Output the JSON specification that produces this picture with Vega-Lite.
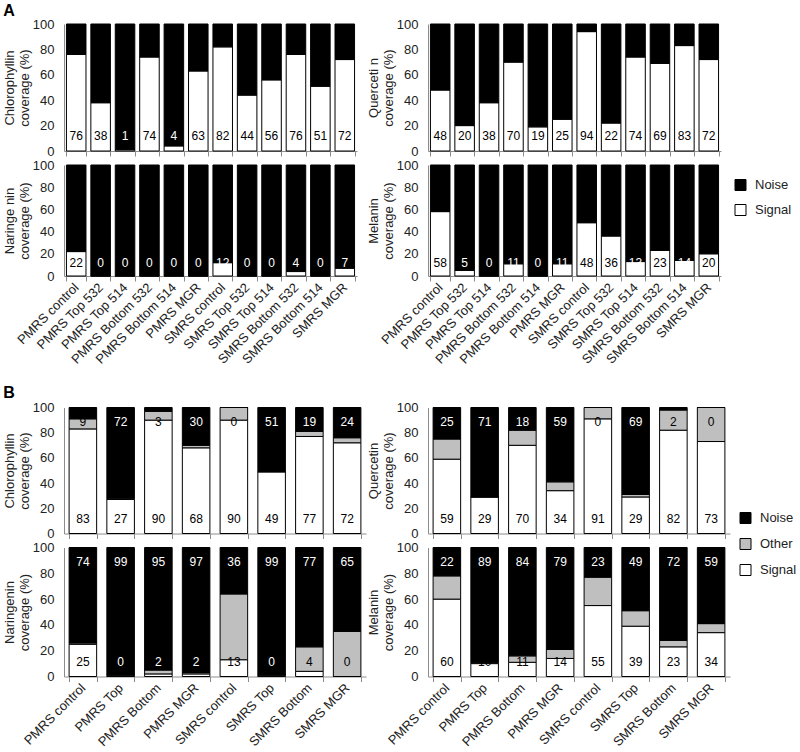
{
  "$schema": "https://vega.github.io/schema/vega-lite/v6.json",
  "padding": {"left": 3, "top": 3, "right": 0, "bottom": 0},
  "background": "white",
  "config": {
    "font": "Liberation Sans",
    "view": {"stroke": null},
    "bar": {"stroke": "black", "strokeWidth": 1},
    "text": {"font": "Liberation Sans", "fontSize": 12, "baseline": "middle"},
    "axis": {"labelFont": "Liberation Sans", "titleFont": "Liberation Sans", "labelFontSize": 13, "titleFontSize": 13, "titleFontWeight": "normal", "domainColor": "#8c8c8c", "tickColor": "#8c8c8c", "labelColor": "#222", "titleColor": "#222", "grid": false},
    "axisY": {"labelOverlap": false, "labelFlush": false, "ticks": false, "labelPadding": 10, "titlePadding": 1, "tickCount": 6},
    "axisX": {"tickBand": "extent", "tickSize": 5, "title": null},
    "legend": {"orient": "none", "title": null, "symbolType": "square", "symbolSize": 121, "symbolStrokeColor": "black", "symbolStrokeWidth": 1, "labelFontSize": 13, "labelFont": "Liberation Sans", "labelColor": "#222", "rowPadding": 10, "labelOffset": 8, "padding": 0},
    "title": {"font": "Liberation Sans", "fontSize": 16, "fontWeight": "bold", "anchor": "start", "frame": "bounds"}
  },
  "datasets": {
    "A": [
      {"c": "Chlorophyllin", "g": "PMRS control", "Signal": 76, "Noise": 24},
      {"c": "Chlorophyllin", "g": "PMRS Top 532", "Signal": 38, "Noise": 62},
      {"c": "Chlorophyllin", "g": "PMRS Top 514", "Signal": 1, "Noise": 99},
      {"c": "Chlorophyllin", "g": "PMRS Bottom 532", "Signal": 74, "Noise": 26},
      {"c": "Chlorophyllin", "g": "PMRS Bottom 514", "Signal": 4, "Noise": 96},
      {"c": "Chlorophyllin", "g": "PMRS MGR", "Signal": 63, "Noise": 37},
      {"c": "Chlorophyllin", "g": "SMRS control", "Signal": 82, "Noise": 18},
      {"c": "Chlorophyllin", "g": "SMRS Top 532", "Signal": 44, "Noise": 56},
      {"c": "Chlorophyllin", "g": "SMRS Top 514", "Signal": 56, "Noise": 44},
      {"c": "Chlorophyllin", "g": "SMRS Bottom 532", "Signal": 76, "Noise": 24},
      {"c": "Chlorophyllin", "g": "SMRS Bottom 514", "Signal": 51, "Noise": 49},
      {"c": "Chlorophyllin", "g": "SMRS MGR", "Signal": 72, "Noise": 28},
      {"c": "Quercetin", "g": "PMRS control", "Signal": 48, "Noise": 52},
      {"c": "Quercetin", "g": "PMRS Top 532", "Signal": 20, "Noise": 80},
      {"c": "Quercetin", "g": "PMRS Top 514", "Signal": 38, "Noise": 62},
      {"c": "Quercetin", "g": "PMRS Bottom 532", "Signal": 70, "Noise": 30},
      {"c": "Quercetin", "g": "PMRS Bottom 514", "Signal": 19, "Noise": 81},
      {"c": "Quercetin", "g": "PMRS MGR", "Signal": 25, "Noise": 75},
      {"c": "Quercetin", "g": "SMRS control", "Signal": 94, "Noise": 6},
      {"c": "Quercetin", "g": "SMRS Top 532", "Signal": 22, "Noise": 78},
      {"c": "Quercetin", "g": "SMRS Top 514", "Signal": 74, "Noise": 26},
      {"c": "Quercetin", "g": "SMRS Bottom 532", "Signal": 69, "Noise": 31},
      {"c": "Quercetin", "g": "SMRS Bottom 514", "Signal": 83, "Noise": 17},
      {"c": "Quercetin", "g": "SMRS MGR", "Signal": 72, "Noise": 28},
      {"c": "Naringenin", "g": "PMRS control", "Signal": 22, "Noise": 78},
      {"c": "Naringenin", "g": "PMRS Top 532", "Signal": 0, "Noise": 100},
      {"c": "Naringenin", "g": "PMRS Top 514", "Signal": 0, "Noise": 100},
      {"c": "Naringenin", "g": "PMRS Bottom 532", "Signal": 0, "Noise": 100},
      {"c": "Naringenin", "g": "PMRS Bottom 514", "Signal": 0, "Noise": 100},
      {"c": "Naringenin", "g": "PMRS MGR", "Signal": 0, "Noise": 100},
      {"c": "Naringenin", "g": "SMRS control", "Signal": 12, "Noise": 88},
      {"c": "Naringenin", "g": "SMRS Top 532", "Signal": 0, "Noise": 100},
      {"c": "Naringenin", "g": "SMRS Top 514", "Signal": 0, "Noise": 100},
      {"c": "Naringenin", "g": "SMRS Bottom 532", "Signal": 4, "Noise": 96},
      {"c": "Naringenin", "g": "SMRS Bottom 514", "Signal": 0, "Noise": 100},
      {"c": "Naringenin", "g": "SMRS MGR", "Signal": 7, "Noise": 93},
      {"c": "Melanin", "g": "PMRS control", "Signal": 58, "Noise": 42},
      {"c": "Melanin", "g": "PMRS Top 532", "Signal": 5, "Noise": 95},
      {"c": "Melanin", "g": "PMRS Top 514", "Signal": 0, "Noise": 100},
      {"c": "Melanin", "g": "PMRS Bottom 532", "Signal": 11, "Noise": 89},
      {"c": "Melanin", "g": "PMRS Bottom 514", "Signal": 0, "Noise": 100},
      {"c": "Melanin", "g": "PMRS MGR", "Signal": 11, "Noise": 89},
      {"c": "Melanin", "g": "SMRS control", "Signal": 48, "Noise": 52},
      {"c": "Melanin", "g": "SMRS Top 532", "Signal": 36, "Noise": 64},
      {"c": "Melanin", "g": "SMRS Top 514", "Signal": 13, "Noise": 87},
      {"c": "Melanin", "g": "SMRS Bottom 532", "Signal": 23, "Noise": 77},
      {"c": "Melanin", "g": "SMRS Bottom 514", "Signal": 14, "Noise": 86},
      {"c": "Melanin", "g": "SMRS MGR", "Signal": 20, "Noise": 80}
    ],
    "B": [
      {"c": "Chlorophyllin", "g": "PMRS control", "Signal": 83, "Other": 8, "Noise": 9},
      {"c": "Chlorophyllin", "g": "PMRS Top", "Signal": 27, "Other": 1, "Noise": 72},
      {"c": "Chlorophyllin", "g": "PMRS Bottom", "Signal": 90, "Other": 7, "Noise": 3},
      {"c": "Chlorophyllin", "g": "PMRS MGR", "Signal": 68, "Other": 2, "Noise": 30},
      {"c": "Chlorophyllin", "g": "SMRS control", "Signal": 90, "Other": 10, "Noise": 0},
      {"c": "Chlorophyllin", "g": "SMRS Top", "Signal": 49, "Other": 0, "Noise": 51},
      {"c": "Chlorophyllin", "g": "SMRS Bottom", "Signal": 77, "Other": 4, "Noise": 19},
      {"c": "Chlorophyllin", "g": "SMRS MGR", "Signal": 72, "Other": 4, "Noise": 24},
      {"c": "Quercetin", "g": "PMRS control", "Signal": 59, "Other": 16, "Noise": 25},
      {"c": "Quercetin", "g": "PMRS Top", "Signal": 29, "Other": 0, "Noise": 71},
      {"c": "Quercetin", "g": "PMRS Bottom", "Signal": 70, "Other": 12, "Noise": 18},
      {"c": "Quercetin", "g": "PMRS MGR", "Signal": 34, "Other": 7, "Noise": 59},
      {"c": "Quercetin", "g": "SMRS control", "Signal": 91, "Other": 9, "Noise": 0},
      {"c": "Quercetin", "g": "SMRS Top", "Signal": 29, "Other": 2, "Noise": 69},
      {"c": "Quercetin", "g": "SMRS Bottom", "Signal": 82, "Other": 16, "Noise": 2},
      {"c": "Quercetin", "g": "SMRS MGR", "Signal": 73, "Other": 27, "Noise": 0},
      {"c": "Naringenin", "g": "PMRS control", "Signal": 25, "Other": 1, "Noise": 74},
      {"c": "Naringenin", "g": "PMRS Top", "Signal": 0, "Other": 1, "Noise": 99},
      {"c": "Naringenin", "g": "PMRS Bottom", "Signal": 2, "Other": 3, "Noise": 95},
      {"c": "Naringenin", "g": "PMRS MGR", "Signal": 2, "Other": 1, "Noise": 97},
      {"c": "Naringenin", "g": "SMRS control", "Signal": 13, "Other": 51, "Noise": 36},
      {"c": "Naringenin", "g": "SMRS Top", "Signal": 0, "Other": 1, "Noise": 99},
      {"c": "Naringenin", "g": "SMRS Bottom", "Signal": 4, "Other": 19, "Noise": 77},
      {"c": "Naringenin", "g": "SMRS MGR", "Signal": 0, "Other": 35, "Noise": 65},
      {"c": "Melanin", "g": "PMRS control", "Signal": 60, "Other": 18, "Noise": 22},
      {"c": "Melanin", "g": "PMRS Top", "Signal": 10, "Other": 1, "Noise": 89},
      {"c": "Melanin", "g": "PMRS Bottom", "Signal": 11, "Other": 5, "Noise": 84},
      {"c": "Melanin", "g": "PMRS MGR", "Signal": 14, "Other": 7, "Noise": 79},
      {"c": "Melanin", "g": "SMRS control", "Signal": 55, "Other": 22, "Noise": 23},
      {"c": "Melanin", "g": "SMRS Top", "Signal": 39, "Other": 12, "Noise": 49},
      {"c": "Melanin", "g": "SMRS Bottom", "Signal": 23, "Other": 5, "Noise": 72},
      {"c": "Melanin", "g": "SMRS MGR", "Signal": 34, "Other": 7, "Noise": 59}
    ]
  },
  "spacing": 17.5,
  "resolve": {"scale": {"color": "independent"}, "legend": {"color": "independent"}},
  "vconcat": [
    {
      "spacing": 1,
      "resolve": {"scale": {"color": "independent"}, "legend": {"color": "independent"}},
      "vconcat": [
        {
          "bounds": "flush",
          "spacing": 71,
          "resolve": {"scale": {"color": "independent"}, "legend": {"color": "independent"}},
          "hconcat": [
            {
              "width": 293, "height": 127,
              "title": {"text": "A", "offset": -1},
              "data": {"name": "A"},
              "transform": [{"filter": "datum.c === 'Chlorophyllin'"}],
              "encoding": {"x": {"field": "g", "type": "nominal", "sort": null, "scale": {"paddingInner": 0.2}, "axis": {"labels": false}}},
              "layer": [
                {"transform": [{"fold": ["Signal", "Noise"], "as": ["type", "value"]}],
                 "mark": "bar",
                 "encoding": {
                   "y": {"field": "value", "type": "quantitative", "stack": "zero", "scale": {"domain": [0, 100]}, "axis": {"title": ["Chlorophyllin", "coverage (%)"], "values": [0, 20, 40, 60, 80, 100], "tickCount": 6}},
                   "color": {"field": "type", "type": "nominal", "scale": {"domain": ["Noise", "Signal"], "range": ["black", "white"]}, "legend": null},
                   "order": {"field": "type", "sort": "descending"}}},
                {"mark": "text",
                 "encoding": {"y": {"datum": 12}, "text": {"field": "Signal"}, "color": {"condition": {"test": "datum.Signal < 15", "value": "white"}, "value": "black"}}}
              ]
            },
            {
              "width": 293, "height": 127,
              "data": {"name": "A"},
              "transform": [{"filter": "datum.c === 'Quercetin'"}],
              "encoding": {"x": {"field": "g", "type": "nominal", "sort": null, "scale": {"paddingInner": 0.2}, "axis": {"labels": false}}},
              "layer": [
                {"transform": [{"fold": ["Signal", "Noise"], "as": ["type", "value"]}],
                 "mark": "bar",
                 "encoding": {
                   "y": {"field": "value", "type": "quantitative", "stack": "zero", "scale": {"domain": [0, 100]}, "axis": {"title": ["Querceti n", "coverage (%)"], "values": [0, 20, 40, 60, 80, 100], "tickCount": 6}},
                   "color": {"field": "type", "type": "nominal", "scale": {"domain": ["Noise", "Signal"], "range": ["black", "white"]}, "legend": null},
                   "order": {"field": "type", "sort": "descending"}}},
                {"mark": "text",
                 "encoding": {"y": {"datum": 12}, "text": {"field": "Signal"}, "color": {"condition": {"test": "datum.Signal < 15", "value": "white"}, "value": "black"}}}
              ]
            }
          ]
        },
        {
          "bounds": "flush",
          "spacing": 71,
          "resolve": {"scale": {"color": "independent"}, "legend": {"color": "independent"}},
          "hconcat": [
            {
              "width": 293, "height": 111,
              "data": {"name": "A"},
              "transform": [{"filter": "datum.c === 'Naringenin'"}],
              "encoding": {"x": {"field": "g", "type": "nominal", "sort": null, "scale": {"paddingInner": 0.2}, "axis": {"labelAngle": -45, "labelAlign": "right", "labelBaseline": "middle", "labelPadding": 4}}},
              "layer": [
                {"transform": [{"fold": ["Signal", "Noise"], "as": ["type", "value"]}],
                 "mark": "bar",
                 "encoding": {
                   "y": {"field": "value", "type": "quantitative", "stack": "zero", "scale": {"domain": [0, 100]}, "axis": {"title": ["Naringe nin", "coverage (%)"], "values": [0, 20, 40, 60, 80, 100], "tickCount": 6}},
                   "color": {"field": "type", "type": "nominal", "scale": {"domain": ["Noise", "Signal"], "range": ["black", "white"]}, "legend": null},
                   "order": {"field": "type", "sort": "descending"}}},
                {"mark": "text",
                 "encoding": {"y": {"datum": 12}, "text": {"field": "Signal"}, "color": {"condition": {"test": "datum.Signal < 15", "value": "white"}, "value": "black"}}}
              ]
            },
            {
              "width": 293, "height": 111,
              "data": {"name": "A"},
              "transform": [{"filter": "datum.c === 'Melanin'"}],
              "encoding": {"x": {"field": "g", "type": "nominal", "sort": null, "scale": {"paddingInner": 0.2}, "axis": {"labelAngle": -45, "labelAlign": "right", "labelBaseline": "middle", "labelPadding": 4}}},
              "layer": [
                {"transform": [{"fold": ["Signal", "Noise"], "as": ["type", "value"]}],
                 "mark": "bar",
                 "encoding": {
                   "y": {"field": "value", "type": "quantitative", "stack": "zero", "scale": {"domain": [0, 100]}, "axis": {"title": ["Melanin", "coverage (%)"], "values": [0, 20, 40, 60, 80, 100], "tickCount": 6}},
                   "color": {"field": "type", "type": "nominal", "scale": {"domain": ["Noise", "Signal"], "range": ["black", "white"]},
                     "legend": {"legendX": 306, "legendY": 13.5}},
                   "order": {"field": "type", "sort": "descending"}}},
                {"mark": "text",
                 "encoding": {"y": {"datum": 12}, "text": {"field": "Signal"}, "color": {"condition": {"test": "datum.Signal < 15", "value": "white"}, "value": "black"}}}
              ]
            }
          ]
        }
      ]
    },
    {
      "spacing": -29,
      "resolve": {"scale": {"color": "independent"}, "legend": {"color": "independent"}},
      "vconcat": [
        {
          "bounds": "flush",
          "spacing": 62,
          "resolve": {"scale": {"color": "independent"}, "legend": {"color": "independent"}},
          "hconcat": [
            {
              "width": 302, "height": 126,
              "title": {"text": "B", "offset": 1},
              "data": {"name": "B"},
              "transform": [{"filter": "datum.c === 'Chlorophyllin'"}],
              "encoding": {"x": {"field": "g", "type": "nominal", "sort": null, "scale": {"paddingInner": 0.27}, "axis": {"labels": false}}},
              "layer": [
                {"transform": [{"fold": ["Signal", "Other", "Noise"], "as": ["type", "value"]}],
                 "mark": "bar",
                 "encoding": {
                   "y": {"field": "value", "type": "quantitative", "stack": "zero", "scale": {"domain": [0, 100]}, "axis": {"title": ["Chlorophyllin", "coverage (%)"], "values": [0, 20, 40, 60, 80, 100], "tickCount": 6}},
                   "color": {"field": "type", "type": "nominal", "scale": {"domain": ["Noise", "Other", "Signal"], "range": ["black", "#bfbfbf", "white"]}, "legend": null},
                   "order": {"field": "type", "sort": "descending"}}},
                {"mark": "text",
                 "encoding": {"y": {"datum": 11.5}, "text": {"field": "Signal"}, "color": {"condition": {"test": "datum.Signal < 10 && datum.Other < 10", "value": "white"}, "value": "black"}}},
                {"mark": "text",
                 "encoding": {"y": {"datum": 88.5}, "text": {"field": "Noise"}, "color": {"condition": {"test": "datum.Noise >= 15", "value": "white"}, "value": "black"}}}
              ]
            },
            {
              "width": 302, "height": 126,
              "data": {"name": "B"},
              "transform": [{"filter": "datum.c === 'Quercetin'"}],
              "encoding": {"x": {"field": "g", "type": "nominal", "sort": null, "scale": {"paddingInner": 0.27}, "axis": {"labels": false}}},
              "layer": [
                {"transform": [{"fold": ["Signal", "Other", "Noise"], "as": ["type", "value"]}],
                 "mark": "bar",
                 "encoding": {
                   "y": {"field": "value", "type": "quantitative", "stack": "zero", "scale": {"domain": [0, 100]}, "axis": {"title": ["Quercetin", "coverage (%)"], "values": [0, 20, 40, 60, 80, 100], "tickCount": 6}},
                   "color": {"field": "type", "type": "nominal", "scale": {"domain": ["Noise", "Other", "Signal"], "range": ["black", "#bfbfbf", "white"]}, "legend": null},
                   "order": {"field": "type", "sort": "descending"}}},
                {"mark": "text",
                 "encoding": {"y": {"datum": 11.5}, "text": {"field": "Signal"}, "color": {"condition": {"test": "datum.Signal < 10 && datum.Other < 10", "value": "white"}, "value": "black"}}},
                {"mark": "text",
                 "encoding": {"y": {"datum": 88.5}, "text": {"field": "Noise"}, "color": {"condition": {"test": "datum.Noise >= 15", "value": "white"}, "value": "black"}}}
              ]
            }
          ]
        },
        {
          "bounds": "flush",
          "spacing": 62,
          "resolve": {"scale": {"color": "independent"}, "legend": {"color": "independent"}},
          "hconcat": [
            {
              "width": 302, "height": 129,
              "data": {"name": "B"},
              "transform": [{"filter": "datum.c === 'Naringenin'"}],
              "encoding": {"x": {"field": "g", "type": "nominal", "sort": null, "scale": {"paddingInner": 0.27}, "axis": {"labelAngle": -45, "labelAlign": "right", "labelBaseline": "middle", "labelPadding": 4}}},
              "layer": [
                {"transform": [{"fold": ["Signal", "Other", "Noise"], "as": ["type", "value"]}],
                 "mark": "bar",
                 "encoding": {
                   "y": {"field": "value", "type": "quantitative", "stack": "zero", "scale": {"domain": [0, 100]}, "axis": {"title": ["Naringenin", "coverage (%)"], "values": [0, 20, 40, 60, 80, 100], "tickCount": 6}},
                   "color": {"field": "type", "type": "nominal", "scale": {"domain": ["Noise", "Other", "Signal"], "range": ["black", "#bfbfbf", "white"]}, "legend": null},
                   "order": {"field": "type", "sort": "descending"}}},
                {"mark": "text",
                 "encoding": {"y": {"datum": 11.5}, "text": {"field": "Signal"}, "color": {"condition": {"test": "datum.Signal < 10 && datum.Other < 10", "value": "white"}, "value": "black"}}},
                {"mark": "text",
                 "encoding": {"y": {"datum": 88.5}, "text": {"field": "Noise"}, "color": {"condition": {"test": "datum.Noise >= 15", "value": "white"}, "value": "black"}}}
              ]
            },
            {
              "width": 302, "height": 129,
              "data": {"name": "B"},
              "transform": [{"filter": "datum.c === 'Melanin'"}],
              "encoding": {"x": {"field": "g", "type": "nominal", "sort": null, "scale": {"paddingInner": 0.27}, "axis": {"labelAngle": -45, "labelAlign": "right", "labelBaseline": "middle", "labelPadding": 4}}},
              "layer": [
                {"transform": [{"fold": ["Signal", "Other", "Noise"], "as": ["type", "value"]}],
                 "mark": "bar",
                 "encoding": {
                   "y": {"field": "value", "type": "quantitative", "stack": "zero", "scale": {"domain": [0, 100]}, "axis": {"title": ["Melanin", "coverage (%)"], "values": [0, 20, 40, 60, 80, 100], "tickCount": 6}},
                   "color": {"field": "type", "type": "nominal", "scale": {"domain": ["Noise", "Other", "Signal"], "range": ["black", "#bfbfbf", "white"]},
                     "legend": {"legendX": 311, "legendY": -36, "rowPadding": 11}},
                   "order": {"field": "type", "sort": "descending"}}},
                {"mark": "text",
                 "encoding": {"y": {"datum": 11.5}, "text": {"field": "Signal"}, "color": {"condition": {"test": "datum.Signal < 10 && datum.Other < 10", "value": "white"}, "value": "black"}}},
                {"mark": "text",
                 "encoding": {"y": {"datum": 88.5}, "text": {"field": "Noise"}, "color": {"condition": {"test": "datum.Noise >= 15", "value": "white"}, "value": "black"}}}
              ]
            }
          ]
        }
      ]
    }
  ]
}
